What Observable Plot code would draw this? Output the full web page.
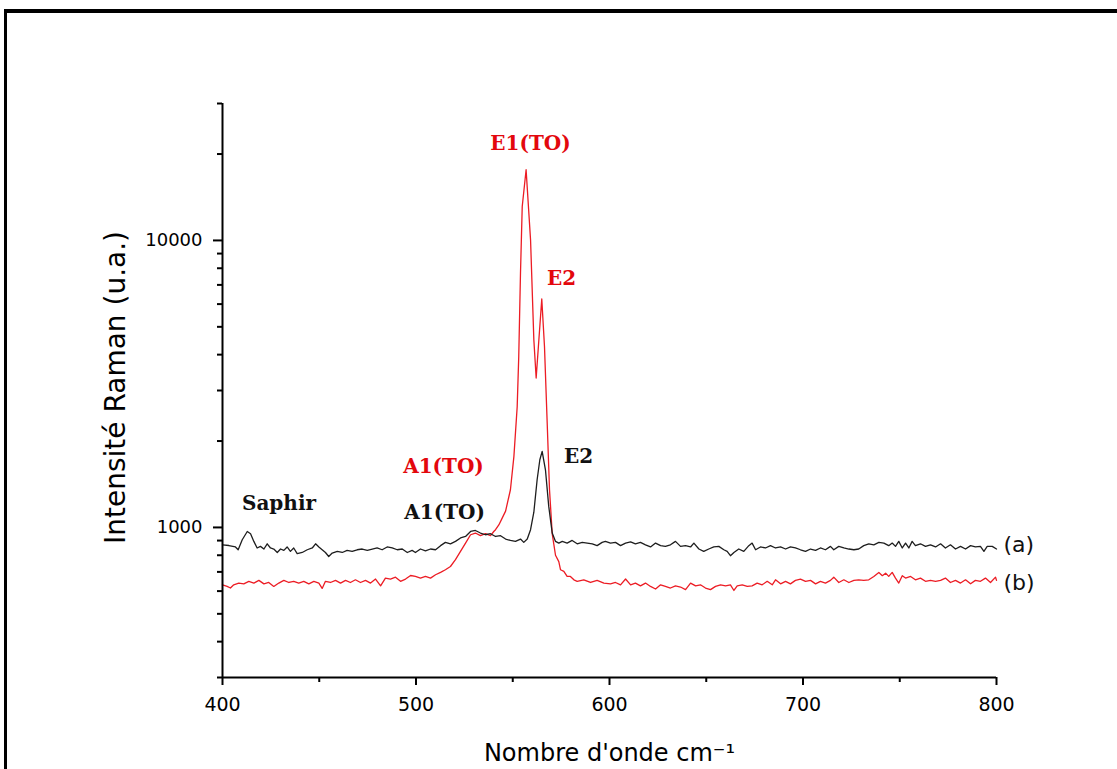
<!DOCTYPE html>
<html><head><meta charset="utf-8">
<script src="https://cdn.jsdelivr.net/npm/d3@7"></script>
<script src="https://cdn.jsdelivr.net/npm/@observablehq/plot@0.6"></script>
<style>
html,body{margin:0;padding:0;background:#fff;overflow:hidden;width:1117px;height:769px;}
#chart{position:absolute;left:0;top:0;}
#ftop{position:absolute;left:4px;top:9px;width:1113px;height:4px;background:#000;}
#fleft{position:absolute;left:4px;top:9px;width:3px;height:760px;background:#000;}
</style></head><body>
<div id="chart"></div><div id="ftop"></div><div id="fleft"></div>
<script>
// Spectrum (a) — black
const aWave = [400,403.3,406.7,408.1,410.2,412.8,414.5,416.2,417.9,419.6,421.4,423.1,424.8,426.5,428.3,430,431.7,433.4,435.1,436.8,438.6,441.2,443.8,446.4,448.1,449.8,451.5,453.2,454.9,456.7,459.3,461.9,464.4,467,469.6,472.2,474.8,477.4,479.9,482.5,485.1,487.7,490.3,492.9,495.5,498,499.7,502.3,504.9,507.5,510.1,512.7,515.2,517.8,520.4,523,525.6,528.2,530.7,533.3,535.9,538.5,541.1,543.7,546.3,548.8,551.4,554,555.7,557.5,559.2,560.9,562.6,564,565.2,566.9,568.6,570.4,572.1,573.8,575.6,578.1,580.7,583.3,585.9,588.5,591.1,593.6,596.2,597.9,600.5,603.1,605.7,608.3,610.9,613.4,616,618.6,621.2,623.8,626.4,628.9,631.5,634.1,636.7,639.3,641.9,643.6,646.2,648.7,651.3,653.9,656.5,659.1,660.8,662.5,664.3,666.8,669.4,672,673.7,675.5,678,680.6,683.2,685.8,688.4,691,693.5,696.1,698.7,701.3,703.9,706.5,709,711.6,714.2,715.9,718.5,721.1,723.7,726.3,728.8,731.4,734,736.6,739.2,741.8,744.3,746.1,747.8,749.5,751.3,753,754.7,756.4,758.1,760.7,763.3,765.9,768.5,771.1,773.6,776.2,778.8,781.4,784,786.6,789.1,791.7,793.5,795.2,797.8,800];
const aIntensity = [870,865,855,836,906,968,951,894,848,859,841,877,848,841,818,841,832,855,825,848,810,818,836,848,877,855,836,818,792,814,825,818,832,825,836,841,832,841,848,836,855,848,836,841,818,832,818,841,828,841,836,864,887,877,894,919,930,968,976,956,943,951,930,936,911,901,894,911,887,911,982,1130,1466,1721,1840,1588,1184,956,894,882,894,882,901,877,887,882,877,864,887,894,882,887,864,882,891,877,887,870,855,882,864,859,870,894,859,864,855,882,841,825,841,855,859,836,825,797,818,841,825,864,882,836,855,848,864,848,855,841,855,848,836,825,841,832,848,836,859,836,859,848,841,836,841,864,877,870,887,882,864,882,859,894,848,882,848,894,864,877,859,870,855,877,848,870,841,859,841,864,855,859,825,859,859,841];

// Spectrum (b) — red
const bWave = [400,402.4,404.1,405.8,408.4,411,413.6,416.2,418.8,421.4,423.9,426.5,429.1,431.7,434.3,436.8,439.4,442,444.6,447.2,449.8,451.5,453.2,455.8,458.4,461,463.6,466.1,468.7,471.3,473.9,476.5,479.1,481.7,484.2,486.8,489.4,492,494.6,497.2,499.7,502.3,504.9,507.5,510.1,512.7,515.2,517.8,520.4,523,525.6,528.2,530.7,533.3,535.9,538.5,540.2,541.1,542.8,544.6,546.3,548.8,550.6,552.3,553.1,554,554.9,556.9,559.2,560.9,562.1,563.5,565,566.4,567.8,569,570.4,572.1,573.8,574.7,576.4,578.1,579.8,581.6,583.3,586.7,590.2,593.6,597.1,600.5,603.1,605.7,608.3,610.9,613.4,616,618.6,621.2,623.8,626.4,628.9,631.5,634.1,636.7,639.3,641.9,644.5,647,649.6,652.2,654.8,657.4,660,662.5,664.3,666,668.6,671.2,673.7,676.3,678.9,681.5,684.1,685.8,688.4,691,693.5,696.1,698.7,701.3,703.9,706.5,709,711.6,714.2,715.9,718.5,721.1,723.7,726.3,728.8,731.4,734,736.6,739.2,741,742.7,744.3,746.1,747.8,749.5,751.3,753,755.6,758.1,760.7,763.3,765.9,768.5,771.1,773.6,776.2,778.8,781.4,784,786.6,789.1,791.7,794.3,796.9,799.5,800];
const bIntensity = [631,623,615,631,640,636,649,640,654,636,643,623,640,654,643,649,640,649,636,649,640,613,649,643,654,640,654,643,657,643,654,640,661,626,666,661,671,649,661,680,675,666,675,666,684,697,712,731,772,825,882,943,956,936,951,936,968,982,1020,1080,1140,1353,1768,2640,3940,7700,13130,17630,10060,4508,3315,4508,6250,4272,2311,1353,950,800,760,712,703,675,675,657,649,657,643,654,640,636,643,631,661,631,640,626,640,623,610,631,623,615,626,620,607,640,626,631,615,607,623,631,626,631,603,626,631,623,626,640,631,649,631,657,636,649,636,654,661,649,654,636,649,640,654,671,643,657,643,654,657,654,657,675,697,679,693,675,697,666,640,679,666,675,657,666,649,654,649,654,666,643,654,640,657,636,654,649,666,643,671,654];

// Axis ticks
const xMajorTicks = [400, 500, 600, 700, 800];
const xMinorTicks = [450, 550, 650, 750];
const yMajorTicks = [1000, 10000];
const yMinorTicks = [300, 400, 500, 600, 700, 800, 900, 2000, 3000, 4000, 5000, 6000, 7000, 8000, 9000, 20000, 30000];

// Peak annotations
const peakText = ["Saphir", "A1(TO)", "A1(TO)", "E1(TO)", "E2", "E2"];
const peakWave = [429.2, 514.8, 514.2, 559.2, 575.2, 584];
const peakIntensity = [1152, 1072, 1551, 20700, 7008, 1680];
const peakSeries = ["a", "a", "b", "b", "b", "a"];

// Series labels
const seriesText = ["(a)", "(b)"];
const seriesWave = [803.6, 803.6];
const seriesIntensity = [870, 640];

const xTitle = "Nombre d'onde cm\u207B\u00B9";
const yTitle = "Intensité Raman (u.a.)";

const BLACK = "#1e1e1e", RED = "#ec1c24", RED_TEXT = "#e3070d";

const specA = aWave.map((w, i) => ({wave: w, intensity: aIntensity[i]}));
const specB = bWave.map((w, i) => ({wave: w, intensity: bIntensity[i]}));
const peaks = peakText.map((t, i) => ({text: t, wave: peakWave[i], intensity: peakIntensity[i], series: peakSeries[i]}));
const seriesLabels = seriesText.map((t, i) => ({text: t, wave: seriesWave[i], intensity: seriesIntensity[i]}));

const chart = Plot.plot({
  width: 1117,
  height: 769,
  marginLeft: 222,
  marginRight: 121,
  marginTop: 103,
  marginBottom: 92,
  style: {fontFamily: "DejaVu Sans", background: "transparent", color: "#000", overflow: "visible"},
  x: {domain: [400, 800]},
  y: {type: "log", domain: [300, 30000]},
  marks: [
    Plot.line(specB, {x: "wave", y: "intensity", stroke: RED, strokeWidth: 1.3}),
    Plot.line(specA, {x: "wave", y: "intensity", stroke: BLACK, strokeWidth: 1.3}),
    Plot.ruleX([400], {stroke: "#000", strokeWidth: 2}),
    Plot.ruleY([300], {stroke: "#000", strokeWidth: 2}),
    Plot.axisX(xMajorTicks, {tickSize: 8, tickPadding: 12, fontSize: 19, strokeWidth: 2, label: null, tickFormat: d => String(d)}),
    Plot.axisX(xMinorTicks, {tickSize: 5, strokeWidth: 2, label: null, tickFormat: () => ""}),
    Plot.axisY(yMajorTicks, {tickSize: 9, tickPadding: 11, fontSize: 18, strokeWidth: 2, label: null, tickFormat: d => String(d)}),
    Plot.axisY(yMinorTicks, {tickSize: 5, strokeWidth: 2, label: null, tickFormat: () => ""}),
    Plot.text([xTitle], {frameAnchor: "bottom", dy: 83, lineAnchor: "bottom", fontSize: 24, fill: "#000"}),
    Plot.text([yTitle], {frameAnchor: "left", rotate: -90, dx: -106, dy: -3, textAnchor: "middle", lineAnchor: "middle", fontSize: 28, fill: "#000"}),
    Plot.text(peaks, {x: "wave", y: "intensity", text: "text", lineAnchor: "bottom", fontFamily: "DejaVu Serif", fontWeight: "bold", fontSize: 20, fill: d => d.series === "b" ? RED_TEXT : "#111"}),
    Plot.text(seriesLabels, {x: "wave", y: "intensity", text: "text", textAnchor: "start", lineAnchor: "middle", fontSize: 22, fill: "#111"})
  ]
});
document.getElementById("chart").appendChild(chart);
</script>
</body></html>
